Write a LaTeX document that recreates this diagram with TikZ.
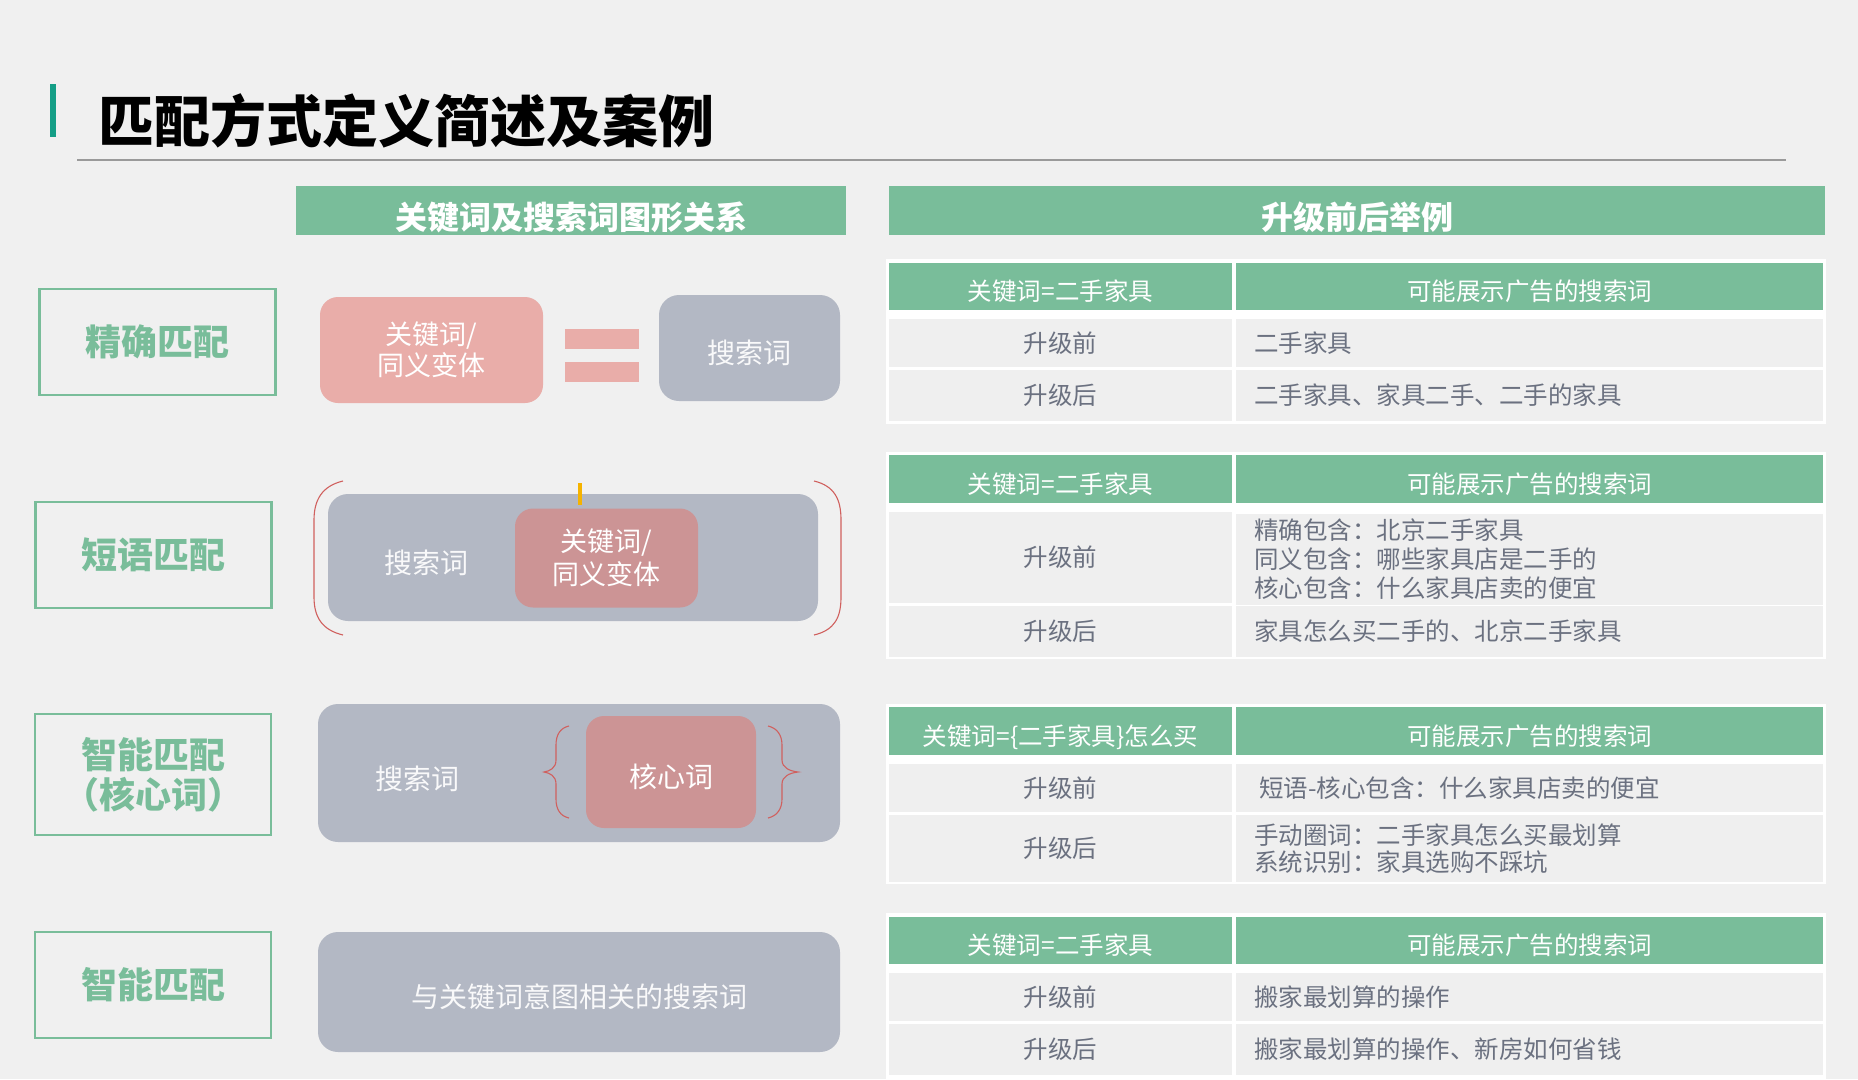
\documentclass[tikz,border=0pt]{standalone}
\usepackage{fontspec}
\setmainfont{Noto Sans CJK SC}
\usepackage{tikz}

\definecolor{pagebg}{HTML}{F0F0F0}
\definecolor{mgreen}{HTML}{79BD9A}
\definecolor{accent}{HTML}{149E86}
\definecolor{pinkA}{HTML}{E9ADA9}
\definecolor{pinkB}{HTML}{CC9495}
\definecolor{grayA}{HTML}{B3B8C4}
\definecolor{rowgray}{HTML}{EFEFEF}
\definecolor{txtgray}{HTML}{6B7180}
\definecolor{redA}{HTML}{D0605E}
\definecolor{yellowA}{HTML}{F5B300}
\definecolor{rulegray}{HTML}{9A9A9A}

\begin{document}
\begin{tikzpicture}[x=1pt,y=-1pt,inner sep=0pt]
  \tikzstyle{labelbox}=[draw=mgreen,line width=2.5pt,minimum width=236pt,text=mgreen,font=\fontsize{36}{40}\selectfont\bfseries,align=center]
  \tikzstyle{bar}=[fill=mgreen,minimum height=49pt,text=white,font=\fontsize{32}{36}\selectfont\bfseries,text height=38pt,text depth=0pt]
  \tikzstyle{pinkbox}=[fill=pinkA,rounded corners=18pt,text=white,font=\fontsize{27}{31}\selectfont,align=center]
  \tikzstyle{graybox}=[fill=grayA,rounded corners=20pt,text=white!92!grayA,font=\fontsize{28}{32}\selectfont,text height=31pt,text depth=0pt]
  \tikzstyle{word}=[text=white!92!grayA,font=\fontsize{28}{32}\selectfont]
  \tikzstyle{tablebg}=[fill=white,minimum width=940pt]
  \tikzstyle{headcell}=[fill=mgreen,text=white,font=\fontsize{24.5}{29}\selectfont,text height=28.6pt,text depth=0pt]
  \tikzstyle{keycell}=[fill=rowgray,minimum width=343pt,text=txtgray,font=\fontsize{24.5}{29}\selectfont]
  \tikzstyle{valcell}=[fill=rowgray,text width=551pt,inner xsep=18pt,align=left,text=txtgray,font=\fontsize{24.5}{29}\selectfont]
  \tikzstyle{bracket}=[draw=redA,line width=1.1pt]

  \useasboundingbox (0,0) rectangle (1858,1079);
  \fill[pagebg] (0,0) rectangle (1858,1079);

  \fill[accent] (50,84) rectangle (56,137);
  \node[anchor=west,font=\fontsize{56}{62}\selectfont\bfseries] (title) at (98,121) {匹配方式定义简述及案例};
  \draw[rulegray,line width=1.2pt] (77,160) -- (1786,160);

  \node[bar,minimum width=550pt] (lhead) at (571,210.5) {关键词及搜索词图形关系};
  \node[bar,minimum width=936pt] (rhead) at (1357,210.5) {升级前后举例};

  \node[labelbox,minimum height=106pt] (exact) at (157.5,342) {精确匹配};
  \node[pinkbox,minimum width=223pt,minimum height=106pt] (kw1) at (431.5,350) {关键词/\\同义变体};
  \node[fill=pinkA,minimum width=74pt,minimum height=20pt] (eqa) at (602,339) {};
  \node[fill=pinkA,minimum width=74pt,minimum height=20pt] (eqb) at (602,372) {};
  \node[graybox,minimum width=181pt,minimum height=106pt] (sw1) at (749.5,348) {搜索词};

  \node[labelbox,minimum height=106pt] (phrase) at (153.5,555) {短语匹配};
  \node[graybox,minimum width=490pt,minimum height=127pt] (sw2) at (573,557.5) {};
  \node[word] (sw2t) at (426,563) {搜索词};
  \node[pinkbox,fill=pinkB,minimum width=183pt,minimum height=99pt,font=\fontsize{27}{33}\selectfont] (kw2) at (606.5,558) {关键词/\\同义变体};
  \draw[bracket] (343,481) .. controls (322,486) and (314,500) .. (314,520) -- (314,597) .. controls (314,617) and (322,630) .. (343,635);
  \draw[bracket] (814,481) .. controls (835,486) and (841,500) .. (841,520) -- (841,597) .. controls (841,617) and (835,630) .. (814,635);
  \fill[yellowA] (578,483) rectangle (582,505);

  \node[labelbox,minimum height=121pt] (core) at (153,774.5) {智能匹配\\（核心词）};
  \node[graybox,minimum width=522pt,minimum height=138pt] (sw3) at (579,773) {};
  \node[word] (sw3t) at (417,779) {搜索词};
  \node[pinkbox,fill=pinkB,minimum width=170pt,minimum height=112pt,font=\fontsize{28}{32}\selectfont,text height=31pt,text depth=0pt] (kw3) at (671,772) {核心词};
  \draw[bracket] (569,726) .. controls (560,728) and (556,735) .. (556,745) -- (556,760) .. controls (556,768) and (550,771) .. (544,772) .. controls (550,773) and (556,776) .. (556,784) -- (556,799) .. controls (556,809) and (560,816) .. (569,818);
  \draw[bracket] (768,726) .. controls (777,728) and (782,735) .. (782,745) -- (782,760) .. controls (782,768) and (790,771) .. (798,772) .. controls (790,773) and (782,776) .. (782,784) -- (782,799) .. controls (782,809) and (777,816) .. (768,818);

  \node[labelbox,minimum height=106pt] (smart) at (153,985) {智能匹配};
  \node[graybox,minimum width=522pt,minimum height=120pt] (sw4) at (579,992) {与关键词意图相关的搜索词};

  \node[tablebg,minimum height=165pt] (t1) at (1356,341.5) {};
  \node[headcell,minimum width=343pt,minimum height=47pt] (t1k) at (1060.5,286.5) {关键词=二手家具};
  \node[headcell,minimum width=587pt,minimum height=47pt] (t1v) at (1529.5,286.5) {可能展示广告的搜索词};
  \node[keycell,minimum height=48pt] (t1a) at (1060.5,343) {升级前};
  \node[valcell,minimum height=48pt] (t1b) at (1529.5,343) {二手家具};
  \node[keycell,minimum height=51pt] (t1c) at (1060.5,395.5) {升级后};
  \node[valcell,minimum height=51pt] (t1d) at (1529.5,395.5) {二手家具、家具二手、二手的家具};

  \node[tablebg,minimum height=207pt] (t2) at (1356,555.5) {};
  \node[headcell,minimum width=343pt,minimum height=48pt] (t2k) at (1060.5,479) {关键词=二手家具};
  \node[headcell,minimum width=587pt,minimum height=48pt] (t2v) at (1529.5,479) {可能展示广告的搜索词};
  \node[keycell,minimum height=91pt] (t2a) at (1060.5,557.5) {升级前};
  \node[valcell,minimum height=91pt] (t2b) at (1529.5,559) {精确包含：北京二手家具\\同义包含：哪些家具店是二手的\\核心包含：什么家具店卖的便宜};
  \node[keycell,minimum height=51pt] (t2c) at (1060.5,631.5) {升级后};
  \node[valcell,minimum height=51pt] (t2d) at (1529.5,631.5) {家具怎么买二手的、北京二手家具};

  \node[tablebg,minimum height=180pt] (t3) at (1356,794) {};
  \node[headcell,minimum width=343pt,minimum height=48pt] (t3k) at (1060.5,731) {关键词=\{二手家具\}怎么买};
  \node[headcell,minimum width=587pt,minimum height=48pt] (t3v) at (1529.5,731) {可能展示广告的搜索词};
  \node[keycell,minimum height=48pt] (t3a) at (1060.5,788) {升级前};
  \node[valcell,minimum height=48pt] (t3b) at (1529.5,788) {\hspace*{5pt}短语-核心包含：什么家具店卖的便宜};
  \node[keycell,minimum height=67pt] (t3c) at (1060.5,848.5) {升级后};
  \node[valcell,minimum height=67pt,font=\fontsize{24.5}{27}\selectfont] (t3d) at (1529.5,848.5) {手动圈词：二手家具怎么买最划算\\系统识别：家具选购不踩坑};

  \node[tablebg,minimum height=166pt] (t4) at (1356,996) {};
  \node[headcell,minimum width=343pt,minimum height=47pt] (t4k) at (1060.5,940.5) {关键词=二手家具};
  \node[headcell,minimum width=587pt,minimum height=47pt] (t4v) at (1529.5,940.5) {可能展示广告的搜索词};
  \node[keycell,minimum height=48pt] (t4a) at (1060.5,997) {升级前};
  \node[valcell,minimum height=48pt] (t4b) at (1529.5,997) {搬家最划算的操作};
  \node[keycell,minimum height=51pt] (t4c) at (1060.5,1049.5) {升级后};
  \node[valcell,minimum height=51pt] (t4d) at (1529.5,1049.5) {搬家最划算的操作、新房如何省钱};
\end{tikzpicture}
\end{document}
